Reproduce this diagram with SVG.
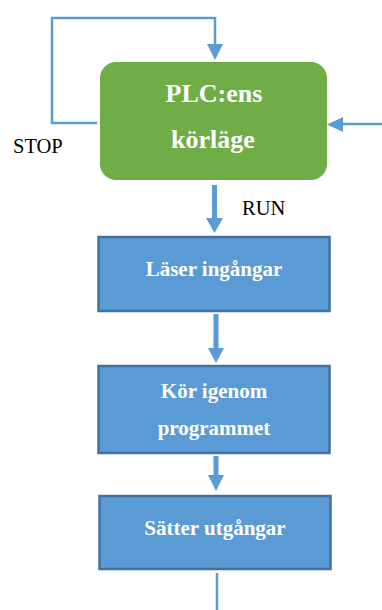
<svg xmlns="http://www.w3.org/2000/svg" width="382" height="610" viewBox="0 0 382 610">
  <style>
    .title { font-family: "Liberation Serif", "Times New Roman", serif; font-weight: bold; fill: #ffffff; text-anchor: middle; }
    .label { font-family: "Liberation Serif", "Times New Roman", serif; fill: #000000; font-size: 20.5px; }
    .step { fill: #5B9BD5; stroke: #41719C; stroke-width: 2.5; }
    .wire { fill: none; stroke: #5B9BD5; stroke-width: 2.5; }
    .shaft { fill: none; stroke: #5B9BD5; stroke-width: 5; }
    .head { fill: #5B9BD5; }
  </style>

  <g id="connectors">
    <!-- STOP loop back into the mode box -->
    <polyline class="wire" points="97,123 52,123 52,18 215,18 215,46"/>
    <polygon class="head" points="207,44 223,44 215,60"/>
    <!-- incoming arrow from the right -->
    <line class="wire" x1="382" y1="124" x2="340" y2="124"/>
    <polygon class="head" points="343,117 343,132 327,124.5"/>
    <!-- RUN: mode box to reading inputs -->
    <line class="shaft" x1="214.5" y1="185" x2="214.5" y2="219"/>
    <polygon class="head" points="206,218 223,218 214.5,233"/>
    <!-- reading inputs to program scan -->
    <line class="shaft" x1="216" y1="314" x2="216" y2="349"/>
    <polygon class="head" points="208,348 224,348 216,363"/>
    <!-- program scan to writing outputs -->
    <line class="shaft" x1="216" y1="456" x2="216" y2="476"/>
    <polygon class="head" points="208,475 224,475 216,491"/>
    <!-- cycle continues below -->
    <line class="wire" x1="217" y1="573" x2="217" y2="610"/>
  </g>

  <text class="label" x="13" y="153">STOP</text>
  <text class="label" x="242" y="215">RUN</text>

  <g id="mode">
    <rect x="100" y="62" width="227" height="118" rx="16" ry="16" fill="#70AD47"/>
    <text class="title" x="214" y="102" font-size="26">PLC:ens</text>
    <text class="title" x="213" y="148" font-size="26">körläge</text>
  </g>

  <g id="read-inputs">
    <rect class="step" x="98.5" y="237" width="231" height="74"/>
    <text class="title" x="214" y="276" font-size="21">Läser ingångar</text>
  </g>

  <g id="run-program">
    <rect class="step" x="98.5" y="366" width="231" height="87"/>
    <text class="title" x="214" y="398" font-size="21">Kör igenom</text>
    <text class="title" x="214" y="435" font-size="21">programmet</text>
  </g>

  <g id="set-outputs">
    <rect class="step" x="99.5" y="496" width="231" height="73"/>
    <text class="title" x="215" y="535" font-size="21">Sätter utgångar</text>
  </g>
</svg>
